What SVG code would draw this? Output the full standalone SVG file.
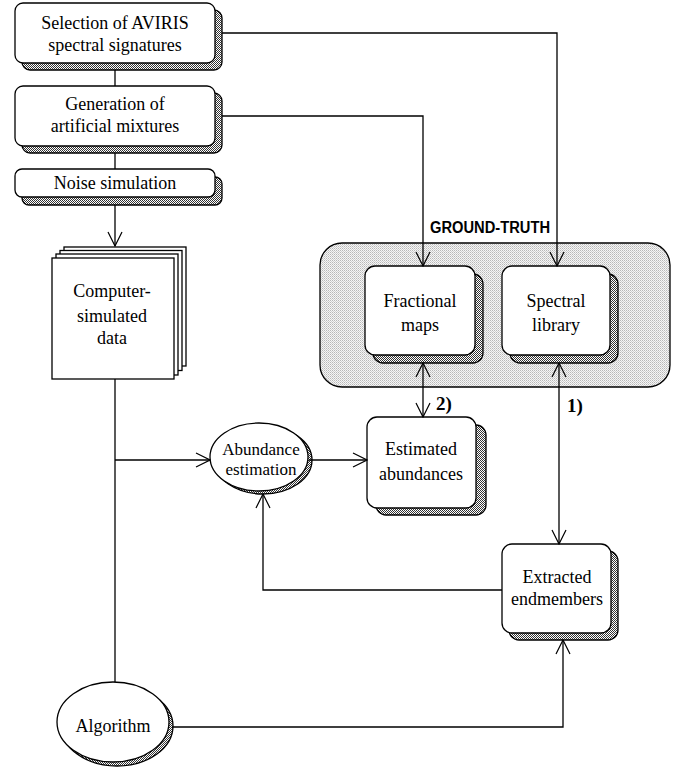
<svg xmlns="http://www.w3.org/2000/svg" width="673" height="770" viewBox="0 0 673 770">
<defs>
<pattern id="dark" width="2" height="2" patternUnits="userSpaceOnUse">
<rect width="2" height="2" fill="#ffffff"/>
<rect x="0" y="0" width="1" height="1" fill="#333"/>
<rect x="1" y="1" width="1" height="1" fill="#333"/>
</pattern>
<pattern id="light" width="2" height="2" patternUnits="userSpaceOnUse">
<rect width="2" height="2" fill="#f6f6f6"/>
<rect x="0" y="0" width="1" height="1" fill="#b8b8b8"/>
<rect x="1" y="1" width="1" height="1" fill="#d0d0d0"/>
</pattern>
<marker id="arr" markerWidth="16" markerHeight="16" viewBox="-15 -8 16 16" refX="0" refY="0" orient="auto-start-reverse" markerUnits="userSpaceOnUse">
<path d="M-14,-7 L0,0 L-14,7" fill="none" stroke="#000" stroke-width="1.2"/>
</marker>
</defs>
<style>
.box{fill:#fff;stroke:#000;stroke-width:1.3}
.sh{fill:url(#dark);stroke:#000;stroke-width:1.3}
.t{font-family:"Liberation Serif",serif;font-size:18px;fill:#000;text-anchor:middle}
.ts{font-family:"Liberation Serif",serif;font-size:17px;fill:#000;text-anchor:middle}
.lb{font-family:"Liberation Serif",serif;font-size:19px;font-weight:bold;fill:#000}
.c{fill:none;stroke:#000;stroke-width:1.3}
</style>

<g id="groundtruth">
<rect x="320" y="243" width="350" height="144" rx="22" fill="url(#light)" stroke="#000" stroke-width="1.3"/>
<text x="490" y="233" font-family="'Liberation Sans',sans-serif" font-weight="bold" font-size="16" text-anchor="middle" textLength="120" lengthAdjust="spacingAndGlyphs">GROUND-TRUTH</text>
</g>

<g id="selection">
<rect class="sh" x="22" y="10" width="200" height="60" rx="8"/>
<rect class="box" x="15" y="3" width="200" height="60" rx="8"/>
<text class="t" x="115" y="29">Selection of AVIRIS</text>
<text class="t" x="115" y="51">spectral signatures</text>
</g>

<g id="generation">
<rect class="sh" x="22" y="93" width="200" height="60" rx="8"/>
<rect class="box" x="15" y="86" width="200" height="60" rx="8"/>
<text class="t" x="115" y="110">Generation of</text>
<text class="t" x="115" y="132">artificial mixtures</text>
</g>

<g id="noise">
<rect class="sh" x="22" y="177" width="200" height="28" rx="7"/>
<rect class="box" x="15" y="169" width="200" height="28" rx="7"/>
<text class="t" x="115" y="189">Noise simulation</text>
</g>

<g id="data">
<rect class="box" x="64" y="247" width="122" height="119"/>
<rect class="box" x="60" y="250.5" width="122" height="120"/>
<rect class="box" x="56" y="254" width="122" height="121"/>
<rect class="box" x="52" y="258" width="122" height="121"/>
<text class="t" x="112" y="297">Computer-</text>
<text class="t" x="112" y="322">simulated</text>
<text class="t" x="112" y="344">data</text>
</g>

<g id="fractional">
<rect class="sh" x="373" y="274" width="110" height="89" rx="10"/>
<rect class="box" x="365" y="266" width="110" height="89" rx="10"/>
<text class="t" x="420" y="307">Fractional</text>
<text class="t" x="420" y="331">maps</text>
</g>

<g id="library">
<rect class="sh" x="510" y="274" width="108" height="89" rx="10"/>
<rect class="box" x="502" y="266" width="108" height="89" rx="10"/>
<text class="t" x="556" y="307">Spectral</text>
<text class="t" x="556" y="331">library</text>
</g>

<g id="estimated">
<rect class="sh" x="376" y="425" width="110" height="90" rx="10"/>
<rect class="box" x="367" y="417" width="109" height="91" rx="10"/>
<text class="t" x="421" y="455">Estimated</text>
<text class="t" x="421" y="480">abundances</text>
</g>

<g id="abundance">
<ellipse class="sh" cx="263" cy="460" rx="49" ry="34"/>
<ellipse class="box" cx="259" cy="457" rx="49" ry="34"/>
<text class="ts" x="261" y="455">Abundance</text>
<text class="ts" x="261" y="475">estimation</text>
</g>

<g id="extracted">
<rect class="sh" x="509" y="551" width="109" height="89" rx="10"/>
<rect class="box" x="502" y="544" width="109" height="89" rx="10"/>
<text class="t" x="557" y="583">Extracted</text>
<text class="t" x="557" y="605">endmembers</text>
</g>

<g id="algorithm">
<ellipse class="sh" cx="117" cy="726" rx="56" ry="40"/>
<ellipse class="box" cx="113" cy="722" rx="56" ry="40"/>
<text class="t" x="113" y="732">Algorithm</text>
</g>

<g id="labels">
<text class="lb" x="436" y="410">2)</text>
<text class="lb" x="567" y="412">1)</text>
</g>

<g id="connectors">
<path class="c" d="M115,70 V86"/>
<path class="c" d="M115,153 V169"/>
<path class="c" d="M115,205 V246" marker-end="url(#arr)"/>
<path class="c" d="M115,379 V682"/>
<path class="c" d="M115,460 H210" marker-end="url(#arr)"/>
<path class="c" d="M309,460 H367" marker-end="url(#arr)"/>
<path class="c" d="M222,33 H557 V266" marker-end="url(#arr)"/>
<path class="c" d="M222,116 H423 V266" marker-end="url(#arr)"/>
<path class="c" d="M423,363 V417" marker-start="url(#arr)" marker-end="url(#arr)"/>
<path class="c" d="M559,363 V544" marker-start="url(#arr)" marker-end="url(#arr)"/>
<path class="c" d="M502,590 H263 V494" marker-end="url(#arr)"/>
<path class="c" d="M172,727 H563 V640" marker-end="url(#arr)"/>
</g>
</svg>
